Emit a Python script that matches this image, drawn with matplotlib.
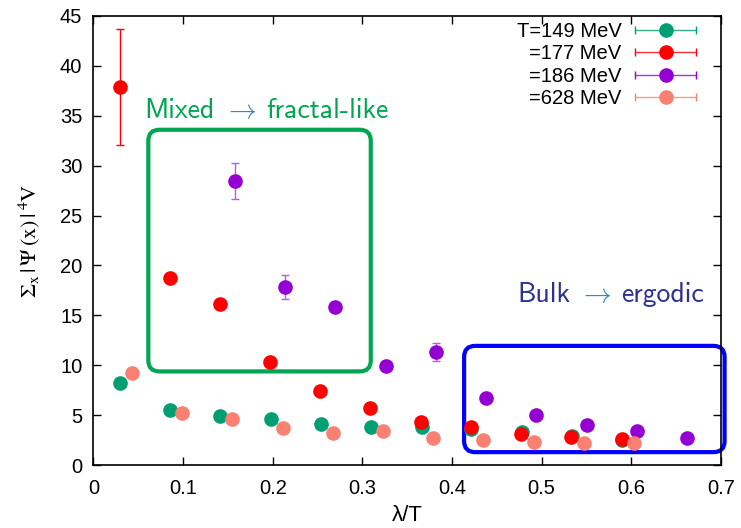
import matplotlib
matplotlib.use("Agg")
import matplotlib.pyplot as plt
from matplotlib.lines import Line2D
from matplotlib.patches import FancyBboxPatch
from matplotlib.legend_handler import HandlerBase
from matplotlib.container import ErrorbarContainer

plt.rcParams["font.family"] = ["Liberation Sans", "DejaVu Sans"]

# lambda/T positions and moments for each temperature
x_149 = [0.030, 0.0856, 0.1414, 0.198, 0.254, 0.310, 0.366, 0.421, 0.478, 0.534, 0.590]
y_149 = [8.2, 5.5, 4.95, 4.6, 4.1, 3.8, 3.8, 3.6, 3.35, 2.9, 2.55]

x_177 = [0.030, 0.085, 0.141, 0.197, 0.253, 0.309, 0.365, 0.421, 0.477, 0.533, 0.590]
y_177 = [37.9, 18.76, 16.15, 10.3, 7.37, 5.7, 4.35, 3.85, 3.1, 2.8, 2.6]
e_177 = [5.8, 0, 0, 0, 0, 0, 0, 0, 0, 0, 0]

x_186 = [0.158, 0.214, 0.270, 0.326, 0.382, 0.438, 0.494, 0.550, 0.606, 0.662]
y_186 = [28.5, 17.86, 15.8, 9.88, 11.36, 6.67, 5.06, 4.0, 3.45, 2.68]
e_186 = [1.8, 1.2, 0, 0, 0.9, 0, 0, 0, 0, 0]

x_628 = [0.043, 0.099, 0.155, 0.211, 0.267, 0.323, 0.379, 0.435, 0.491, 0.547, 0.603]
y_628 = [9.2, 5.2, 4.62, 3.75, 3.25, 3.4, 2.68, 2.5, 2.28, 2.18, 2.25]

labels = ["T=149 MeV", "=177 MeV", "=186 MeV", "=628 MeV"]
colors = ["#009e73", "#ff0000", "#9400d3", "#fa8072"]

x_ticks = [0, 0.1, 0.2, 0.3, 0.4, 0.5, 0.6, 0.7]
x_ticklabels = ["0", "0.1", "0.2", "0.3", "0.4", "0.5", "0.6", "0.7"]
y_ticks = [0, 5, 10, 15, 20, 25, 30, 35, 40, 45]

fig = plt.figure(figsize=(7.41, 5.28), dpi=100)
ax = fig.add_axes([0.126, 0.1193, 0.847, 0.8504])
ax.set_xlim(0, 0.7)
ax.set_ylim(0, 45)

series = [
    (x_149, y_149, None),
    (x_177, y_177, e_177),
    (x_186, y_186, e_186),
    (x_628, y_628, None),
]
handles = []
for (xs, ys, es), c, lab in zip(series, colors, labels):
    ecol = c if c != "#9400d3" else "#b060e0"
    h = ax.errorbar(xs, ys, yerr=es, fmt="o", ms=9.5, color=c, mec=c,
                    ecolor=ecol, elinewidth=1.0, capsize=3.2, capthick=1.0,
                    label=lab)
    handles.append(h)


class CappedLineHandler(HandlerBase):
    """Horizontal error-bar style key: line with end caps and a dot."""

    def create_artists(self, legend, orig_handle, xdescent, ydescent,
                       width, height, fontsize, trans):
        c = orig_handle.lines[0].get_color()
        y = (height - ydescent) / 2.0
        x0, x1 = -xdescent, -xdescent + width
        line = Line2D([x0, x1], [y, y], color=c, lw=1.0, alpha=0.8)
        caps = Line2D([x0, x1], [y, y], ls="none", marker="|", ms=6,
                      mew=1.0, color=c)
        dot = Line2D([(x0 + x1) / 2], [y], ls="none", marker="o", ms=9.5,
                     color=c)
        for a in (line, caps, dot):
            a.set_transform(trans)
        return [line, caps, dot]


ax.legend(handles=handles, labels=labels, loc="upper right",
          bbox_to_anchor=(0.960, 0.987), frameon=False, markerfirst=False,
          fontsize=14.5, handlelength=3.0, handletextpad=0.7,
          labelspacing=0.17, borderpad=0, borderaxespad=0,
          handler_map={ErrorbarContainer: CappedLineHandler()})

ax.set_xticks(x_ticks)
ax.set_xticklabels(x_ticklabels)
ax.set_yticks(y_ticks)
ax.tick_params(direction="in", length=6, width=1, top=True, right=True,
               labelsize=14.5)
ax.tick_params(axis="x", pad=10)
ax.tick_params(axis="y", pad=8)
for s in ax.spines.values():
    s.set_linewidth(1.2)

ax.set_xlabel("λ/T", fontsize=16, labelpad=5)
ax.set_ylabel(r"$\Sigma_{\mathrm{x}}\,|\,\Psi\,(\mathrm{x})\,|\,^{4}\mathrm{V}$",
              fontsize=16, math_fontfamily="stix", labelpad=12)

# rounded regions, corners kept circular on screen
bbox_ax = ax.get_position()
px_x = bbox_ax.width * 741 / 0.7
px_y = bbox_ax.height * 528 / 45.0
aspect = px_x / px_y
radius = 11.0 / px_x


def region(x0, y0, x1, y1, color):
    p = FancyBboxPatch((x0, y0), x1 - x0, y1 - y0,
                       boxstyle=f"round,pad=0,rounding_size={radius}",
                       mutation_aspect=aspect, fill=False, ec=color, lw=3.0,
                       transform=ax.transData, clip_on=False, zorder=1)
    ax.add_patch(p)


region(0.0613, 9.38, 0.3094, 33.6, "#00a651")
region(0.4135, 1.29, 0.704, 11.94, "#0000ff")


def phrase(x, y, parts, size):
    t = ax.text(x, y, parts[0][0], color=parts[0][1], fontsize=size,
                family="cmss10", va="baseline", ha="left")
    for s, c, gap, fam in parts[1:]:
        kw = {}
        if fam == "math":
            kw["math_fontfamily"] = "cm"
        else:
            kw["family"] = fam
        t = ax.annotate(s, xy=(1, y), xycoords=(t, "data"),
                        xytext=(gap, 0), textcoords="offset points",
                        color=c, fontsize=size, va="baseline", ha="left",
                        **kw)


arrow_c = "#2f7fc8"
phrase(0.0570, 34.74,
       [("Mixed", "#00a651"),
        (r"$\rightarrow$", arrow_c, 6.5, "math"),
        ("fractal-like", "#00a651", 7, "cmss10")], 20)
phrase(0.473, 16.35,
       [("Bulk", "#2e3192"),
        (r"$\rightarrow$", arrow_c, 6, "math"),
        ("ergodic", "#2e3192", 7, "cmss10")], 20)

fig.savefig("out.png", dpi=100)
